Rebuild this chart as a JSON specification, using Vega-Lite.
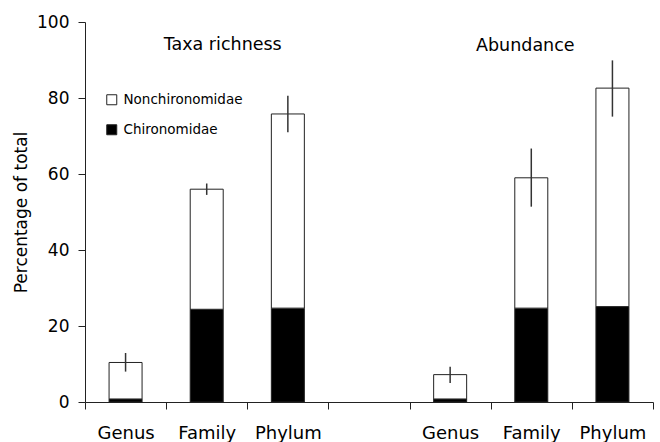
{
  "$schema": "https://vega.github.io/schema/vega-lite/v6.json",
  "width": 568,
  "height": 380,
  "autosize": {"type": "none"},
  "padding": {"left": 85, "top": 22, "right": 7, "bottom": 40},
  "config": {
    "view": {"stroke": null},
    "font": "DejaVu Sans",
    "axis": {"domainColor": "#222", "tickColor": "#222", "labelColor": "#000", "titleColor": "#000", "grid": false, "tickSize": 7},
    "axisY": {"tickCount": 10, "labelOverlap": false}
  },
  "datasets": {
    "bars": [
      {"slot": "TR Genus", "group": "Chironomidae", "value": 0.8},
      {"slot": "TR Genus", "group": "Nonchironomidae", "value": 9.6},
      {"slot": "TR Family", "group": "Chironomidae", "value": 24.4},
      {"slot": "TR Family", "group": "Nonchironomidae", "value": 31.6},
      {"slot": "TR Phylum", "group": "Chironomidae", "value": 24.7},
      {"slot": "TR Phylum", "group": "Nonchironomidae", "value": 51.1},
      {"slot": "AB Genus", "group": "Chironomidae", "value": 0.8},
      {"slot": "AB Genus", "group": "Nonchironomidae", "value": 6.4},
      {"slot": "AB Family", "group": "Chironomidae", "value": 24.7},
      {"slot": "AB Family", "group": "Nonchironomidae", "value": 34.3},
      {"slot": "AB Phylum", "group": "Chironomidae", "value": 25.1},
      {"slot": "AB Phylum", "group": "Nonchironomidae", "value": 57.5}
    ],
    "errors": [
      {"slot": "TR Genus", "low": 8.0, "high": 12.9},
      {"slot": "TR Family", "low": 54.5, "high": 57.5},
      {"slot": "TR Phylum", "low": 71.0, "high": 80.6},
      {"slot": "AB Genus", "low": 5.0, "high": 9.3},
      {"slot": "AB Family", "low": 51.4, "high": 66.7},
      {"slot": "AB Phylum", "low": 75.1, "high": 89.9}
    ]
  },
  "layer": [
    {
      "data": {"name": "bars"},
      "mark": {"type": "bar", "width": 33, "stroke": "#222", "strokeWidth": 1},
      "encoding": {
        "x": {
          "field": "slot", "type": "nominal",
          "scale": {"domain": ["TR Genus", "TR Family", "TR Phylum", "gap", "AB Genus", "AB Family", "AB Phylum"], "paddingInner": 0, "paddingOuter": 0},
          "axis": {"title": null, "labelAngle": 0, "tickBand": "extent", "labelFontSize": 18, "labelPadding": 15, "labelOverlap": false, "labelExpr": "(datum.value == 'TR Genus' || datum.value == 'AB Genus') ? 'Genus' : (datum.value == 'TR Family' || datum.value == 'AB Family') ? 'Family' : (datum.value == 'TR Phylum' || datum.value == 'AB Phylum') ? 'Phylum' : ''"}
        },
        "y": {
          "field": "value", "type": "quantitative",
          "scale": {"domain": [0, 100], "nice": false},
          "axis": {"title": "Percentage of total", "values": [0, 10, 20, 30, 40, 50, 60, 70, 80, 90, 100], "tickCount": 10, "labelOverlap": false, "labelFontSize": 17, "labelPadding": 9, "titleFontSize": 17, "titleFontWeight": "normal", "titlePadding": 6}
        },
        "order": {"field": "group", "sort": "ascending"},
        "color": {
          "field": "group", "type": "nominal",
          "scale": {"domain": ["Nonchironomidae", "Chironomidae"], "range": ["white", "black"]},
          "legend": {"title": null, "orient": "none", "legendX": 20, "legendY": 71, "symbolType": "square", "symbolSize": 100, "symbolStrokeColor": "#222", "symbolStrokeWidth": 1, "labelFontSize": 13.5, "labelColor": "#000", "rowPadding": 15, "labelOffset": 5, "padding": 0}
        }
      }
    },
    {
      "data": {"name": "errors"},
      "mark": {"type": "rule", "color": "#333", "strokeWidth": 1.5},
      "encoding": {
        "x": {"field": "slot", "type": "nominal"},
        "y": {"field": "low", "type": "quantitative"},
        "y2": {"field": "high"}
      }
    },
    {
      "data": {"values": [{"slot": "TR Family", "y": 92.6, "label": "Taxa richness"}]},
      "mark": {"type": "text", "fontSize": 17.5, "dx": 16, "align": "center", "baseline": "alphabetic", "color": "#000"},
      "encoding": {
        "x": {"field": "slot", "type": "nominal"},
        "y": {"field": "y", "type": "quantitative"},
        "text": {"field": "label"}
      }
    },
    {
      "data": {"values": [{"slot": "AB Family", "y": 92.4, "label": "Abundance"}]},
      "mark": {"type": "text", "fontSize": 17.5, "dx": -6, "align": "center", "baseline": "alphabetic", "color": "#000"},
      "encoding": {
        "x": {"field": "slot", "type": "nominal"},
        "y": {"field": "y", "type": "quantitative"},
        "text": {"field": "label"}
      }
    }
  ]
}
